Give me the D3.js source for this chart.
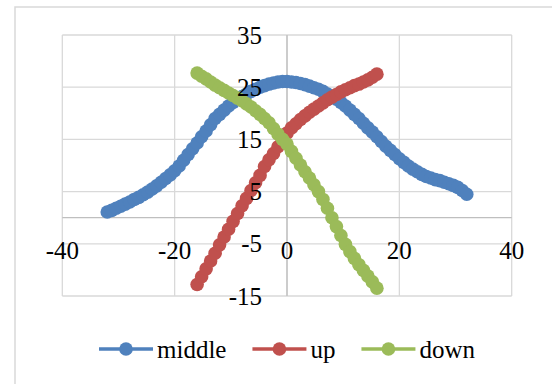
<!DOCTYPE html>
<html>
<head>
<meta charset="utf-8">
<script src="https://cdn.jsdelivr.net/npm/d3@7"></script>
<style>
  html, body { margin: 0; padding: 0; background: #fff; }
  svg { display: block; }
  svg text { font-family: "Times New Roman", Times, Tinos, "Liberation Serif", "Noto Serif", "DejaVu Serif", FreeSerif, serif !important; }
</style>
</head>
<body>
<svg id="chart" width="552" height="384"></svg>
<script>
// ---------- data ----------
const seriesNames = ["middle", "up", "down"];
const seriesColors = ["#4F81BD", "#C0504D", "#9BBB59"];

const middleX = [-32,-31.2,-30.4,-29.6,-28.8,-28,-27.2,-26.4,-25.6,-24.8,-24,-23.2,-22.4,-21.6,-20.8,-20,-19.2,-18.4,-17.6,-16.8,-16,-15.2,-14.4,-13.6,-12.8,-12,-11.2,-10.4,-9.6,-8.8,-8,-7.2,-6.4,-5.6,-4.8,-4,-3.2,-2.4,-1.6,-0.8,0,0.8,1.6,2.4,3.2,4,4.8,5.6,6.4,7.2,8,8.8,9.6,10.4,11.2,12,12.8,13.6,14.4,15.2,16,16.8,17.6,18.4,19.2,20,20.8,21.6,22.4,23.2,24,24.8,25.6,26.4,27.2,28,28.8,29.6,30.4,31.2,32];
const middleY = [1.1,1.4,1.8,2.2,2.6,3.0,3.5,3.9,4.4,4.9,5.5,6.1,6.8,7.5,8.2,9.0,9.9,11.0,12.1,13.2,14.3,15.5,16.6,17.8,19.0,19.8,20.6,21.4,22.1,22.7,23.2,23.7,24.2,24.6,25.0,25.3,25.6,25.8,26.0,26.1,26.1,26.0,25.9,25.7,25.5,25.2,24.9,24.6,24.2,23.7,23.2,22.7,22.1,21.4,20.6,19.8,19.0,18.1,17.2,16.4,15.5,14.6,13.7,12.9,12.1,11.3,10.6,9.9,9.3,8.8,8.3,7.9,7.6,7.3,7.1,6.8,6.5,6.2,5.8,5.2,4.5];

const udX = [-16,-15.2,-14.4,-13.6,-12.8,-12,-11.2,-10.4,-9.6,-8.8,-8,-7.2,-6.4,-5.6,-4.8,-4,-3.2,-2.4,-1.6,-0.8,0,0.8,1.6,2.4,3.2,4,4.8,5.6,6.4,7.2,8,8.8,9.6,10.4,11.2,12,12.8,13.6,14.4,15.2,16];
const upY = [-12.8,-11.3,-9.8,-8.3,-6.8,-5.2,-3.7,-2.2,-0.7,0.8,2.3,3.7,5.2,6.7,8.1,9.8,11.1,12.3,13.6,14.9,16.2,17.2,18.0,18.8,19.5,20.2,20.8,21.4,22.0,22.6,23.1,23.6,24.1,24.5,24.9,25.3,25.6,26.0,26.4,26.9,27.5];
const downY = [27.7,27.1,26.6,26.0,25.4,24.9,24.4,23.9,23.4,22.9,22.4,21.8,21.2,20.5,19.8,19.0,18.2,17.1,16.0,15.0,14.1,12.7,11.4,10.1,8.8,7.6,6.3,5.0,3.5,1.8,0.0,-1.7,-3.4,-5.1,-6.5,-7.8,-9.0,-10.1,-11.2,-12.3,-13.5];

const xTicks = [-40, -20, 0, 20, 40];
const yTicks = [-15, -5, 5, 15, 25, 35];

// ---------- layout ----------
const svg = d3.select("#chart");
const plot = { left: 62.3, right: 511.7, top: 35, bottom: 296 };
const x = d3.scaleLinear().domain([-40, 40]).range([plot.left, plot.right]);
const y = d3.scaleLinear().domain([-15, 35]).range([plot.bottom, plot.top]);
const fontSize = 25;
const markerR = 6.8;

// chart border
svg.append("rect")
  .attr("x", 15).attr("y", 7).attr("width", 600).attr("height", 500)
  .attr("fill", "#fff").attr("stroke", "#d9d9d9").attr("stroke-width", 1.5);

// gridlines
const grid = svg.append("g");
grid.selectAll("line.h").data(yTicks).enter().append("line")
  .attr("x1", plot.left).attr("x2", plot.right)
  .attr("y1", d => y(d)).attr("y2", d => y(d))
  .attr("stroke", "#d9d9d9").attr("stroke-width", 1.3);
grid.selectAll("line.v").data(xTicks).enter().append("line")
  .attr("y1", plot.top).attr("y2", plot.bottom)
  .attr("x1", d => x(d)).attr("x2", d => x(d))
  .attr("stroke", "#d9d9d9").attr("stroke-width", 1.3);

// axes lines (cross at 0)
svg.append("line").attr("x1", plot.left).attr("x2", plot.right)
  .attr("y1", y(0)).attr("y2", y(0)).attr("stroke", "#bfbfbf").attr("stroke-width", 1.3);
svg.append("line").attr("x1", x(0)).attr("x2", x(0))
  .attr("y1", plot.top).attr("y2", plot.bottom).attr("stroke", "#bfbfbf").attr("stroke-width", 1.3);

// series
const series = [
  { name: seriesNames[0], color: seriesColors[0], pts: middleX.map((v, i) => [v, middleY[i]]) },
  { name: seriesNames[1], color: seriesColors[1], pts: udX.map((v, i) => [v, upY[i]]) },
  { name: seriesNames[2], color: seriesColors[2], pts: udX.map((v, i) => [v, downY[i]]) }
];
const line = d3.line().x(d => x(d[0])).y(d => y(d[1])).curve(d3.curveCatmullRom.alpha(0.5));
series.forEach(s => {
  const g = svg.append("g");
  g.append("path").attr("d", line(s.pts)).attr("fill", "none")
    .attr("stroke", s.color).attr("stroke-width", 3.5).attr("stroke-linecap", "round");
  g.selectAll("circle").data(s.pts).enter().append("circle")
    .attr("cx", d => x(d[0])).attr("cy", d => y(d[1])).attr("r", markerR)
    .attr("fill", s.color);
});

// tick labels
svg.append("g").selectAll("text").data(xTicks).enter().append("text")
  .attr("x", d => x(d)).attr("y", y(0) + 41)
  .attr("text-anchor", "middle").attr("font-size", fontSize).attr("fill", "#000")
  .text(d => d);
svg.append("g").selectAll("text").data(yTicks).enter().append("text")
  .attr("x", x(0) - 25).attr("y", d => y(d) + 8.5)
  .attr("text-anchor", "end").attr("font-size", fontSize).attr("fill", "#000")
  .text(d => d);

// legend
const legend = svg.append("g");
const legendY = 349;
const lineLen = 54, textGap = 4, itemGap = 26;
let cursor = 0;
series.forEach(s => {
  const g = legend.append("g");
  g.append("line").attr("x1", 0).attr("x2", lineLen).attr("y1", legendY).attr("y2", legendY)
    .attr("stroke", s.color).attr("stroke-width", 3.5);
  g.append("circle").attr("cx", lineLen / 2).attr("cy", legendY).attr("r", markerR).attr("fill", s.color);
  const t = g.append("text").attr("x", lineLen + textGap).attr("y", legendY + 8.5)
    .attr("font-size", fontSize).attr("fill", "#000").text(s.name);
  const w = lineLen + textGap + t.node().getComputedTextLength();
  g.attr("transform", `translate(${cursor},0)`);
  cursor += w + itemGap;
});
const totalW = cursor - itemGap;
legend.attr("transform", `translate(${(plot.left + plot.right) / 2 - totalW / 2},0)`);
</script>
</body>
</html>
